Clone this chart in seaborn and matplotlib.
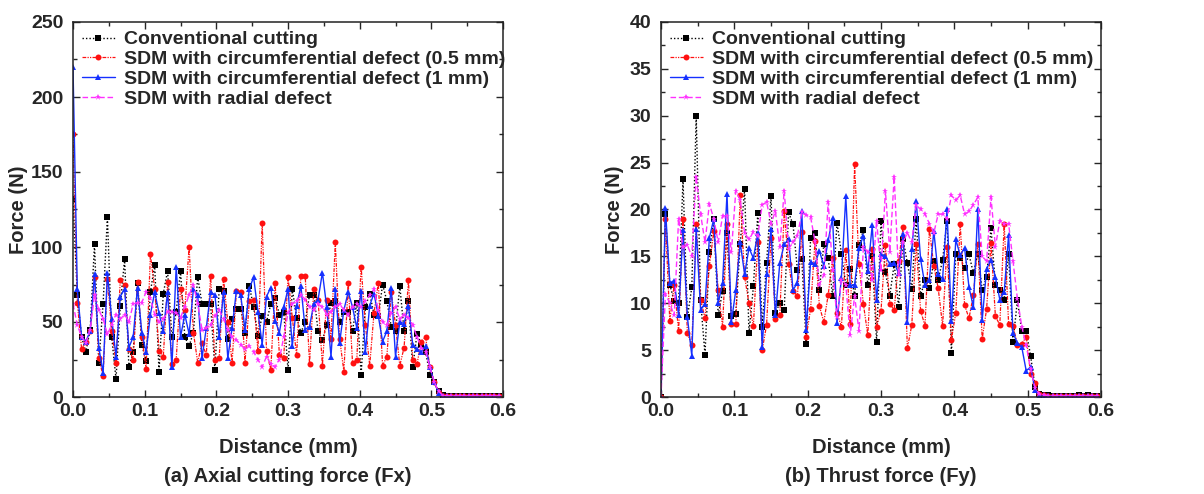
import numpy as np
import pandas as pd
import matplotlib
matplotlib.use("Agg")
import matplotlib.pyplot as plt
from matplotlib.ticker import MultipleLocator, FormatStrFormatter
import seaborn as sns

sns.set_style("ticks")
plt.rcParams['font.family'] = ['Liberation Sans', 'DejaVu Sans']
plt.rcParams['font.weight'] = 'bold'
plt.rcParams['axes.labelweight'] = 'bold'

# Series labels
SERIES = [
    "Conventional cutting",
    "SDM with circumferential defect (0.5 mm)",
    "SDM with circumferential defect (1 mm)",
    "SDM with radial defect",
]

STEP = 0.006  # sampling distance (mm)

# ---- (a) Axial cutting force Fx ----
fx_conv = [132, 68, 40, 30, 45, 102, 23, 62, 120, 40,
           12, 61, 92, 20, 30, 76, 35, 24, 70, 88,
           17, 69, 84, 40, 57, 84, 40, 34, 43, 80,
           62, 62, 62, 18, 72, 71, 39, 52, 59, 59,
           43, 74, 60, 41, 54, 50, 62, 66, 55, 57,
           18, 72, 53, 43, 50, 68, 68, 44, 38, 48,
           63, 64, 50, 57, 57, 44, 63, 15, 60, 69,
           55, 54, 75, 64, 47, 44, 74, 44, 64, 20,
           42, 35, 30, 15, 10, 4, 1.5, 1, 0.8, 0.7,
           0.6, 0.6, 0.5, 0.5, 0.5, 0.5, 0.5, 0.5, 0.5, 0.5]
fx_circ05 = [175, 63, 32, 37, 44, 80, 26, 14, 79, 44,
             23, 78, 75, 32, 25, 77, 40, 19, 95, 72,
             31, 27, 77, 22, 25, 72, 58, 100, 43, 23,
             36, 28, 81, 25, 26, 79, 50, 23, 71, 70,
             23, 64, 65, 31, 116, 31, 18, 76, 28, 26,
             80, 53, 28, 81, 81, 22, 72, 65, 21, 65,
             39, 103, 39, 17, 76, 23, 25, 87, 48, 21,
             56, 76, 21, 27, 70, 48, 21, 33, 78, 25,
             22, 37, 40, 20, 10, 3, 1, 0.8, 0.6, 0.5,
             0.5, 0.5, 0.5, 0.5, 0.5, 0.5, 0.5, 0.5, 0.5, 0.5]
fx_circ1 = [220, 72, 40, 37, 44, 82, 33, 16, 83, 52,
            27, 67, 72, 33, 40, 73, 43, 30, 55, 70,
            56, 44, 70, 20, 87, 40, 55, 42, 72, 68,
            26, 46, 70, 68, 40, 70, 26, 46, 71, 68,
            45, 72, 80, 57, 35, 67, 73, 51, 43, 60,
            72, 34, 61, 74, 45, 47, 62, 65, 83, 60,
            27, 72, 36, 58, 70, 60, 46, 71, 30, 61,
            69, 54, 37, 44, 73, 27, 50, 49, 61, 35,
            32, 30, 34, 20, 10, 3, 1, 0.6, 0.5, 0.5,
            0.5, 0.5, 0.5, 0.5, 0.5, 0.5, 0.5, 0.5, 0.5, 0.5]
fx_radial = [62, 48, 40, 36, 45, 68, 58, 52, 42, 48,
             55, 52, 55, 50, 62, 63, 63, 70, 66, 55,
             50, 52, 57, 57, 56, 53, 60, 68, 75, 62,
             45, 46, 48, 54, 58, 52, 45, 40, 38, 35,
             32, 34, 30, 25, 20, 27, 22, 20, 25, 40,
             56, 62, 64, 68, 65, 60, 58, 62, 60, 55,
             57, 60, 62, 58, 55, 60, 62, 60, 64, 68,
             72, 58, 50, 48, 56, 60, 52, 55, 53, 48,
             40, 33, 30, 20, 10, 4, 1, 0.6, 0.5, 0.5,
             0.5, 0.5, 0.5, 0.5, 0.5, 0.5, 0.5, 0.5, 0.5, 0.5]

# ---- (b) Thrust force Fy ----
fy_conv = [0, 19.5, 12, 10.2, 10, 23.2, 8.5, 11.7, 30, 10.3,
           4.5, 15.5, 19, 8.7, 11.3, 17.5, 8.6, 8.9, 16.3, 22.2,
           6.8, 11.8, 19.6, 7.5, 14.3, 21.4, 9, 10, 9.3, 19.7,
           18.4, 13.6, 14.7, 5.7, 17, 17.5, 11.4, 16.3, 14.8, 10.8,
           18.6, 15.3, 12, 13.7, 10.8, 16.2, 17.8, 11.9, 15, 5.9,
           18.8, 13.3, 10.8, 14.2, 9.6, 16.8, 14.3, 11.5, 19, 10.8,
           12.5, 11.6, 14.5, 12.5, 14.6, 18.8, 4.7, 15.2, 14.8, 13.8,
           15.2, 13.2, 15.3, 11.4, 12.8, 18, 12, 11.4, 10.3, 15.2,
           5.9, 10.3, 7, 7, 4.4, 1.1, 0.3, 0.2, 0.2, 0.15,
           0.15, 0.1, 0.1, 0.15, 0.1, 0.2, 0.1, 0.2, 0.1, 0.1]
fy_circ05 = [0, 19, 8.1, 12, 7, 19, 6.8, 5.5, 18.4, 10.4,
             8.4, 14, 17.7, 11.4, 7.5, 18.5, 7.8, 7.8, 21.5, 12.8,
             10, 7.6, 16.5, 5, 7.7, 17, 8.3, 8.8, 19.8, 14.2,
             11.3, 10.8, 17.6, 6.4, 9.4, 16.6, 9.7, 8, 10.9, 14.8,
             9, 7.5, 15.7, 7.8, 24.8, 14.2, 9.9, 6.6, 15.8, 7.5,
             9.2, 16.2, 9.9, 9.3, 14.5, 18.1, 5.2, 7.7, 16.3, 9.2,
             7.6, 17.9, 14, 11.6, 7.6, 16, 6.1, 9, 18.5, 9.8,
             8.4, 10.9, 16.3, 6.2, 9.4, 16.4, 8.6, 7.7, 18.5, 7.8,
             7.6, 5.6, 5.7, 6.4, 2.5, 1.5, 0.3, 0.2, 0.15, 0.1,
             0.1, 0.1, 0.1, 0.1, 0.1, 0.1, 0.1, 0.1, 0.1, 0.1]
fy_circ1 = [0, 20.2, 12.2, 12.4, 8.7, 17.8, 8.5, 4.4, 17.9, 9.3,
            9.9, 17, 19, 10, 12.2, 21.7, 8, 11.4, 16.5, 13.1,
            15.9, 14.8, 17.5, 5.3, 13.1, 17.9, 8.7, 14.3, 16.3, 16.8,
            11.4, 12.2, 19.8, 7.2, 14.4, 14.2, 15.6, 14, 16.7, 19.1,
            7.9, 12.7, 21.4, 11.9, 12, 15.9, 17.2, 13.4, 18.3, 10.4,
            15.2, 15, 14.2, 14.3, 13.2, 17.4, 8, 15.8, 20.9, 14.7,
            11.9, 12.5, 17.7, 13.1, 12.6, 20, 8.1, 16.8, 15.1, 15.9,
            11.7, 9.6, 20.1, 8.2, 13.7, 14.6, 12.8, 10.4, 11.2, 17.3,
            6.8, 5.8, 5.3, 2.8, 3.2, 0.8, 0.1, 0.1, 0.1, 0.1,
            0.1, 0.1, 0.1, 0.1, 0.1, 0.1, 0.1, 0.1, 0.1, 0.1]
fy_radial = [0, 11, 10, 8.7, 19, 16, 16.2, 15, 23.5, 19.5,
             16.5, 20.6, 19, 16.5, 19.3, 19.3, 15.5, 22, 21, 17.5,
             16.8, 17.6, 17.2, 20.5, 20.8, 18.5, 19.8, 16, 22, 15.8,
             16.5, 17.2, 19.7, 19.4, 19.2, 16.6, 12, 13, 20.8, 13.5,
             8.5, 12.5, 12, 6.6, 10.8, 7, 16, 15.5, 12.5, 18.8,
             13.5, 22, 15.5, 23.5, 13, 16.5, 17.5, 16.5, 20.5, 20,
             19.5, 18.5, 17.5, 19.5, 19.5, 19, 21.5, 21, 21.5, 19.5,
             19.8, 20.5, 21.3, 15, 14.5, 21.3, 16, 18.8, 18.5, 18.5,
             14.5, 10.5, 7.5, 5.5, 3, 1, 0.3, 0.2, 0.15, 0.1,
             0.1, 0.1, 0.1, 0.1, 0.1, 0.1, 0.1, 0.1, 0.1, 0.1]

STYLES = [
    dict(color='black', marker='s', markersize=3.8, ls=(0, (1, 1.5)), lw=1.0),
    dict(color='#ff1010', marker='o', markersize=4.3, ls=(0, (3, 1, 1, 1, 1, 1)), lw=0.9),
    dict(color='#1530ff', marker='^', markersize=4.3, ls='-', lw=1.0),
    dict(color='#ff30ff', marker='*', markersize=4.6, ls=(0, (4, 2)), lw=1.0),
]


def draw_panel(ax, series, ymax, ymajor, ylabel_x, caption):
    for name, vals, st in zip(SERIES, series, STYLES):
        df = pd.DataFrame({'distance': np.arange(len(vals)) * STEP, 'force': vals})
        sns.lineplot(data=df, x='distance', y='force', ax=ax, label=name,
                     estimator=None, color=st['color'], marker=st['marker'],
                     markersize=st['markersize'], markeredgewidth=0,
                     linestyle=st['ls'], linewidth=st['lw'])
    ax.set_xlim(0, 0.6)
    ax.set_ylim(0, ymax)
    ax.xaxis.set_major_locator(MultipleLocator(0.1))
    ax.xaxis.set_minor_locator(MultipleLocator(0.05))
    ax.xaxis.set_major_formatter(FormatStrFormatter('%.1f'))
    ax.yaxis.set_major_locator(MultipleLocator(ymajor))
    ax.yaxis.set_minor_locator(MultipleLocator(ymajor / 2))
    ax.tick_params(which='both', direction='in', top=True, right=True,
                   width=1.0, labelsize=14)
    ax.tick_params(which='major', length=5)
    ax.tick_params(which='minor', length=3)
    ax.tick_params(axis='x', pad=4.5)
    ax.tick_params(axis='y', pad=7)
    for lab in ax.get_xticklabels() + ax.get_yticklabels():
        lab.set_fontweight('bold')
    for sp in ax.spines.values():
        sp.set_linewidth(1.1)
        sp.set_color('#222222')
    ax.set_xlabel('Distance (mm)', fontsize=14.5, fontweight='bold')
    ax.set_ylabel('Force (N)', fontsize=14.5, fontweight='bold')
    ax.xaxis.set_label_coords(0.5, -0.11)
    ax.yaxis.set_label_coords(ylabel_x, 0.5)
    ax.legend(loc='upper left', bbox_to_anchor=(0, 1), frameon=False,
              prop={'weight': 'bold', 'size': 14},
              handlelength=1.7, handletextpad=0.45, labelspacing=0.12,
              borderaxespad=0.2, borderpad=0.25)
    pos = ax.get_position()
    ax.figure.text(pos.x0 + pos.width / 2, 0.035, caption, ha='center', va='center',
                   fontsize=14.5, fontweight='bold')


fig = plt.figure(figsize=(12.04, 4.94), dpi=100)
ax1 = fig.add_axes([73 / 1204, 97 / 494, 430 / 1204, 375 / 494])
ax2 = fig.add_axes([661 / 1204, 97 / 494, 440 / 1204, 375 / 494])

draw_panel(ax1, [fx_conv, fx_circ05, fx_circ1, fx_radial], 250, 50, -0.105,
           '(a) Axial cutting force (Fx)')
draw_panel(ax2, [fy_conv, fy_circ05, fy_circ1, fy_radial], 40, 5, -0.083,
           '(b) Thrust force (Fy)')

fig.savefig('out.png', dpi=100, facecolor='white')
